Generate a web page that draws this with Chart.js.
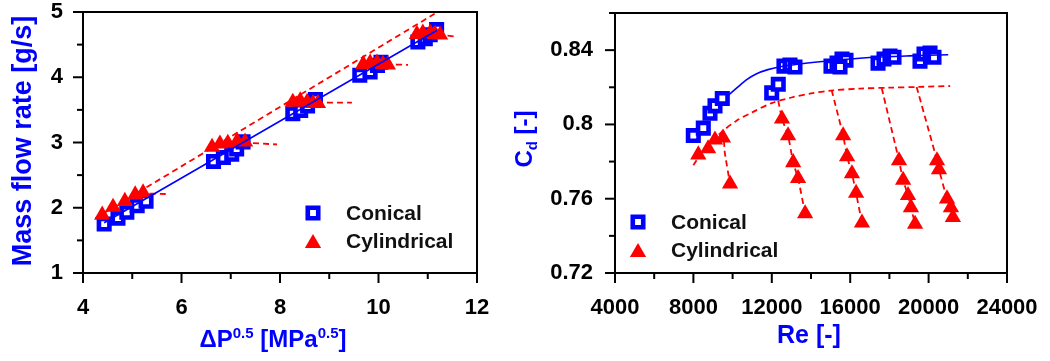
<!DOCTYPE html>
<html lang="en">
<head>
    <meta charset="UTF-8">
    <title>Mass flow rate and discharge coefficient</title>
    <script src="https://cdn.jsdelivr.net/npm/chart.js"></script>
    <style>
        body { margin: 0; background: #fff; }
        #wrap { position: relative; width: 1050px; height: 361px; }
        .panel { position: absolute; top: 0; height: 361px; }
        #left { left: 0; width: 490px; }
        #right { left: 490px; width: 560px; }
    </style>
</head>
<body>
    <div id="wrap">
        <div class="panel" id="left"><canvas id="flowChart"></canvas></div>
        <div class="panel" id="right"><canvas id="cdChart"></canvas></div>
    </div>

    <script>
        // ---- left panel: mass flow rate vs dP^0.5
        const conicalDp   = [4.43, 4.71, 4.89, 5.10, 5.28, 6.65, 6.85, 7.02, 7.12, 7.25, 8.26, 8.42, 8.56, 8.72, 9.62, 9.83, 9.98, 10.05, 10.80, 10.95, 11.05, 11.18];
        const conicalMass = [1.75, 1.84, 1.93, 2.03, 2.10, 2.71, 2.77, 2.82, 2.90, 3.01, 3.44, 3.49, 3.56, 3.66, 4.03, 4.08, 4.18, 4.23, 4.54, 4.59, 4.65, 4.73];

        const cylDp   = [4.39, 4.61, 4.85, 5.06, 5.22, 6.62, 6.78, 6.94, 7.13, 7.29, 8.26, 8.41, 8.55, 8.67, 8.77, 9.69, 9.83, 9.97, 10.09, 10.19, 10.78, 10.90, 11.05, 11.15, 11.25];
        const cylMass = [1.89, 2.01, 2.10, 2.20, 2.23, 2.93, 2.98, 2.99, 3.02, 3.01, 3.62, 3.64, 3.62, 3.60, 3.60, 4.20, 4.22, 4.22, 4.20, 4.19, 4.66, 4.68, 4.68, 4.66, 4.65];

        const conicalFitDp   = [4.43, 11.19];
        const conicalFitMass = [1.77, 4.72];
        const cylFitDp   = [4.25, 11.2];
        const cylFitMass = [1.84, 5.0];

        // flat (choked) pieces of the cylindrical model
        const chokeDp   = [[5.15, 5.70], [7.25, 7.94], [8.75, 9.46], [10.15, 10.60], [11.20, 11.59]];
        const chokeMass = [[2.22, 2.21], [3.00, 2.97], [3.61, 3.61], [4.20, 4.19], [4.66, 4.62]];

        // ---- right panel: Cd vs Re
        const conicalRe = [7995, 8505, 8847, 9102, 9474, 11995, 12330, 12620, 12928, 13183, 15020, 15327, 15582, 15786, 15480, 17420, 17725, 18030, 18235, 19561, 19765, 20071, 20275];
        const conicalCd = [0.794, 0.798, 0.806, 0.810, 0.814, 0.817, 0.8216, 0.8314, 0.832, 0.8309, 0.8314, 0.833, 0.8352, 0.8346, 0.8309, 0.833, 0.8352, 0.8368, 0.8362, 0.8341, 0.8379, 0.8384, 0.8362];

        const cylRe = [8250, 8750, 9100, 9510, 9870, 12520, 12830, 13090, 13340, 13700, 15640, 15840, 16090, 16300, 16600, 18490, 18700, 18950, 19100, 19310, 20430, 20530, 20940, 21140, 21240];
        const cylCd = [0.7837, 0.787, 0.7917, 0.7928, 0.768, 0.803, 0.794, 0.7795, 0.771, 0.752, 0.794, 0.7827, 0.7735, 0.763, 0.747, 0.7805, 0.770, 0.7618, 0.7553, 0.7463, 0.7805, 0.7757, 0.760, 0.7553, 0.750];

        const conicalCurveRe = [9700, 10200, 10700, 11200, 11800, 12500, 13500, 15000, 17000, 19000, 21000];
        const conicalCurveCd = [0.815, 0.8195, 0.824, 0.8272, 0.8295, 0.8312, 0.8327, 0.8343, 0.836, 0.8369, 0.8375];

        const cylCurveRe = [8000, 8500, 9000, 9500, 10200, 11000, 12000, 13000, 14000, 15000, 16500, 18000, 19500, 21100];
        const cylCurveCd = [0.778, 0.786, 0.7915, 0.7965, 0.802, 0.8065, 0.8115, 0.8145, 0.8167, 0.8182, 0.8193, 0.8198, 0.8202, 0.8207];

        // drop-off branches from the envelope
        const dropRe = [[9530, 9600, 9870], [12330, 12520, 12830, 13090, 13340, 13700], [15055, 15640, 15840, 16090, 16300, 16600], [17610, 18490, 18700, 18950, 19100, 19310], [19390, 20430, 20530, 20940, 21140, 21240]];
        const dropCd = [[0.7966, 0.785, 0.768], [0.8127, 0.803, 0.794, 0.7795, 0.771, 0.752], [0.8184, 0.794, 0.7827, 0.7735, 0.763, 0.747], [0.8195, 0.7805, 0.770, 0.7618, 0.7553, 0.7463], [0.8202, 0.7805, 0.7757, 0.760, 0.7553, 0.750]];

        const BLUE = '#0000ff';
        const RED = '#ff0000';
        const FONT = '"Liberation Sans", Arial, sans-serif';
        Chart.defaults.font.family = FONT;

        function zip(xs, ys) {
            return xs.map((x, i) => ({ x: x, y: ys[i] }));
        }

        function squares(label, xs, ys) {
            return { label, data: zip(xs, ys), pointStyle: 'rect', pointRadius: 7.4, pointHoverRadius: 7.4,
                     borderColor: BLUE, backgroundColor: '#fff', borderWidth: 4.6, order: 3 };
        }
        function triangles(label, xs, ys) {
            return { label, data: zip(xs, ys), pointStyle: 'triangle', pointRadius: 9.4, pointHoverRadius: 9.4,
                     borderColor: RED, backgroundColor: RED, borderWidth: 0, order: 2 };
        }
        function line(xs, ys, color, dashed) {
            return { data: zip(xs, ys), showLine: true, pointRadius: 0, borderColor: color, borderWidth: dashed ? 1.8 : 1.6,
                     borderDash: dashed ? [6, 4] : [], tension: 0.3, fill: false, order: dashed ? 1 : 0 };
        }

        // draws text with super/subscripts, centred on (x, y) baseline
        function drawRich(ctx, parts, at, rot) {
            const big = 'bold ' + at.size + 'px ' + FONT;
            const small = 'bold ' + Math.round(at.size * 0.62) + 'px ' + FONT;
            let w = 0;
            parts.forEach(p => { ctx.font = p.s ? small : big; w += ctx.measureText(p.t).width; });
            ctx.save();
            ctx.translate(at.x, at.y);
            ctx.rotate(rot);
            ctx.fillStyle = BLUE;
            ctx.textBaseline = 'alphabetic';
            ctx.textAlign = 'left';
            let cx = -w / 2;
            parts.forEach(p => {
                ctx.font = p.s ? small : big;
                const dy = p.s === 'sup' ? -at.size * 0.36 : (p.s === 'sub' ? at.size * 0.22 : 0);
                ctx.fillText(p.t, cx, dy);
                cx += ctx.measureText(p.t).width;
            });
            ctx.restore();
        }

        const decor = {
            id: 'decor',
            afterDraw(chart, args, opts) {
                const ctx = chart.ctx, a = chart.chartArea;
                ctx.save();
                ctx.strokeStyle = '#000';
                ctx.lineWidth = 2;
                ctx.strokeRect(a.left, a.top, a.right - a.left, a.bottom - a.top);
                ['x', 'y'].forEach(id => {
                    const s = chart.scales[id];
                    s.ticks.forEach(t => {
                        const len = t.label === '' ? 6 : 10;
                        const p = s.getPixelForValue(t.value);
                        ctx.beginPath();
                        if (id === 'x') { ctx.moveTo(p, a.bottom); ctx.lineTo(p, a.bottom + len); }
                        else { ctx.moveTo(a.left, p); ctx.lineTo(a.left - len, p); }
                        ctx.stroke();
                    });
                });
                drawRich(ctx, opts.xTitle, opts.xTitleAt, 0);
                drawRich(ctx, opts.yTitle, opts.yTitleAt, -Math.PI / 2);

                // legend
                opts.legend.forEach(item => {
                    const ds = chart.data.datasets.find(d => d.label === item.label);
                    const r = ds.pointRadius;
                    ctx.beginPath();
                    if (ds.pointStyle === 'rect') {
                        const h = Math.SQRT1_2 * r;
                        ctx.rect(item.x - h, item.y - h, 2 * h, 2 * h);
                        ctx.fillStyle = ds.backgroundColor;
                        ctx.fill();
                        ctx.lineWidth = ds.borderWidth;
                        ctx.strokeStyle = ds.borderColor;
                        ctx.stroke();
                    } else {
                        const cy = item.y + r / 4;
                        ctx.moveTo(item.x, cy - r);
                        ctx.lineTo(item.x + r * 0.866, cy + r / 2);
                        ctx.lineTo(item.x - r * 0.866, cy + r / 2);
                        ctx.closePath();
                        ctx.fillStyle = ds.backgroundColor;
                        ctx.fill();
                    }
                    ctx.fillStyle = '#111';
                    ctx.font = 'bold 21px ' + FONT;
                    ctx.textAlign = 'left';
                    ctx.textBaseline = 'middle';
                    ctx.fillText(item.label, item.x + 33, item.y + 1);
                });
                ctx.restore();
            }
        };

        function axis(pos, min, max, step, showLabel, fmt, size, pad) {
            return {
                type: 'linear', position: pos, min, max,
                grid: { display: false, drawTicks: false },
                border: { display: false },
                ticks: {
                    stepSize: step, padding: pad, color: '#000',
                    autoSkip: false, maxRotation: 0, minRotation: 0,
                    font: { size: 22, weight: 'bold' },
                    callback: v => showLabel(v) ? fmt(v) : ''
                },
                afterFit: s => {
                    if (pos === 'left') s.width = size; else s.height = size;
                    // keep label overflow from shrinking the plot area
                    s.paddingTop = s.paddingBottom = s.paddingLeft = s.paddingRight = 0;
                }
            };
        }

        // left chart
        const flowSets = [
            squares('Conical', conicalDp, conicalMass),
            triangles('Cylindrical', cylDp, cylMass),
            line(conicalFitDp, conicalFitMass, BLUE, false),
            line(cylFitDp, cylFitMass, RED, true)
        ];
        chokeDp.forEach((xs, i) => flowSets.push(line(xs, chokeMass[i], RED, true)));

        new Chart(document.getElementById('flowChart'), {
            type: 'scatter',
            data: { datasets: flowSets },
            options: {
                responsive: true, maintainAspectRatio: false, animation: false,
                layout: { padding: { top: 12, right: 13, left: 0, bottom: 0 } },
                scales: {
                    x: axis('bottom', 4, 12, 1, v => Math.round(v) % 2 === 0, v => String(v), 88, 22),
                    y: axis('left', 1, 5, 0.5, v => Math.abs(v - Math.round(v)) < 1e-6, v => String(v), 83, 20)
                },
                plugins: {
                    legend: { display: false },
                    tooltip: { enabled: false },
                    decor: {
                        xTitle: [{ t: '\u0394P' }, { t: '0.5', s: 'sup' }, { t: ' [MPa' }, { t: '0.5', s: 'sup' }, { t: ']' }],
                        xTitleAt: { x: 273, y: 347, size: 24 },
                        yTitle: [{ t: 'Mass flow rate [g/s]' }],
                        yTitleAt: { x: 31, y: 141, size: 27 },
                        legend: [{ label: 'Conical', x: 313, y: 213 }, { label: 'Cylindrical', x: 313, y: 241 }]
                    }
                }
            },
            plugins: [decor]
        });

        // right chart
        const cdSets = [
            squares('Conical', conicalRe, conicalCd),
            triangles('Cylindrical', cylRe, cylCd),
            line(conicalCurveRe, conicalCurveCd, BLUE, false),
            line(cylCurveRe, cylCurveCd, RED, true)
        ];
        dropRe.forEach((xs, i) => {
            const d = line(xs, dropCd[i], RED, true);
            d.tension = 0.15;
            cdSets.push(d);
        });

        new Chart(document.getElementById('cdChart'), {
            type: 'scatter',
            data: { datasets: cdSets },
            options: {
                responsive: true, maintainAspectRatio: false, animation: false,
                layout: { padding: { top: 13, right: 43, left: 0, bottom: 0 } },
                scales: {
                    x: axis('bottom', 4000, 24000, 2000, v => Math.round(v) % 4000 === 0, v => String(v), 88, 22),
                    y: axis('left', 0.72, 0.86, 0.02, v => (Math.round(v * 100) - 72) % 4 === 0, v => String(+v.toFixed(2)), 125, 22)
                },
                plugins: {
                    legend: { display: false },
                    tooltip: { enabled: false },
                    decor: {
                        xTitle: [{ t: 'Re [-]' }],
                        xTitleAt: { x: 319, y: 343, size: 25 },
                        yTitle: [{ t: 'C' }, { t: 'd', s: 'sub' }, { t: ' [-]' }],
                        yTitleAt: { x: 42, y: 139, size: 24 },
                        legend: [{ label: 'Conical', x: 148, y: 222 }, { label: 'Cylindrical', x: 148, y: 250 }]
                    }
                }
            },
            plugins: [decor]
        });
    </script>
</body>
</html>
